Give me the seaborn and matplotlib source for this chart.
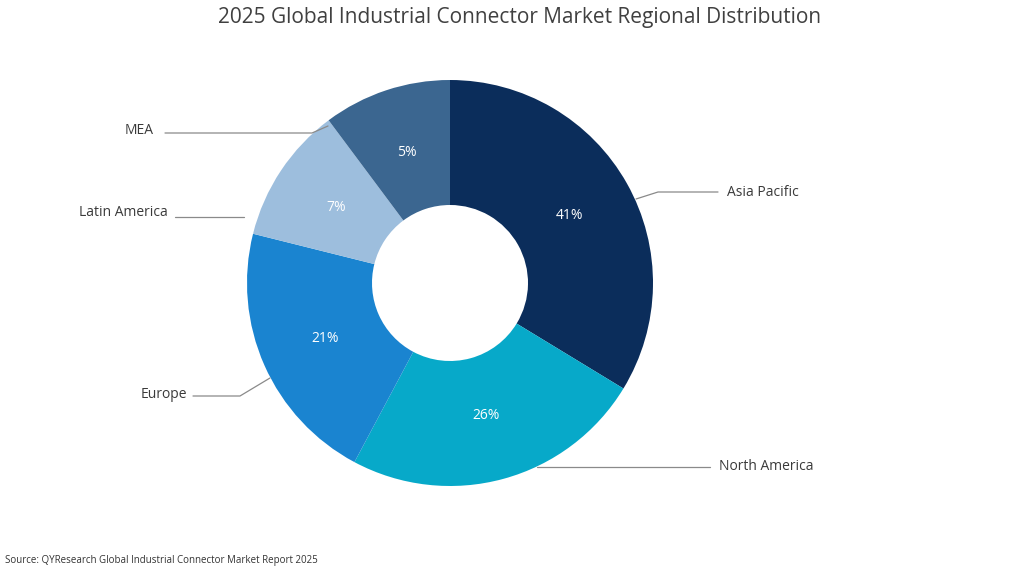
import matplotlib
matplotlib.use("Agg")
import matplotlib.pyplot as plt
import seaborn as sns
import numpy as np

# Data
regions = ["Asia Pacific", "North America", "Europe", "Latin America", "MEA"]
# slice sizes as drawn in the reference (angular shares)
shares = [33.7, 24.1, 21.1, 10.9, 10.2]
# percentages printed on the slices
pct_labels = ["41%", "26%", "21%", "7%", "5%"]
colors = ["#0b2d5b", "#07a9c9", "#1a84d0", "#9dbedd", "#3b6690"]

title = "2025 Global Industrial Connector Market Regional Distribution"
source = "Source: QYResearch Global Industrial Connector Market Report 2025"

sns.set_theme(style="white")
plt.rcParams['font.family'] = ['Open Sans', 'DejaVu Sans']

fig = plt.figure(figsize=(10.24, 5.76), dpi=100)
ax = fig.add_axes([0, 0, 1, 1])
ax.set_xlim(0, 1024)
ax.set_ylim(0, 576)
ax.axis("off")

H = 576
cx, cy = 450, H - 283
R = 203
wedges, _ = ax.pie(shares, colors=colors, startangle=90, counterclock=False,
                   center=(cx, cy), radius=R, frame=True,
                   wedgeprops=dict(width=125, edgecolor="none", linewidth=0))
ax.set_xlim(0, 1024)
ax.set_ylim(0, 576)
ax.axis("off")

for w, lab in zip(wedges, pct_labels):
    mid = np.deg2rad((w.theta1 + w.theta2) / 2)
    r = 0.675 * R
    ax.text(cx + r * np.cos(mid), cy + r * np.sin(mid), lab, color="white",
            fontsize=10, ha="center", va="center")

line_kw = dict(color="#8a8a8a", lw=0.9)
txt_kw = dict(fontsize=10, color="#3a3a3a", va="center")

# leader lines (pixel coords -> data coords with y flipped)
def P(x, y):
    return x, H - y

# Asia Pacific
xs, ys = zip(P(636, 199), P(658, 192), P(718, 192))
ax.plot(xs, ys, **line_kw)
ax.text(*P(727, 192), regions[0], ha="left", **txt_kw)
# North America
xs, ys = zip(P(537, 467), P(710, 467))
ax.plot(xs, ys, **line_kw)
ax.text(*P(719, 467), regions[1], ha="left", **txt_kw)
# Europe
xs, ys = zip(P(193, 396), P(240, 396), P(270, 378))
ax.plot(xs, ys, **line_kw)
ax.text(*P(187, 395), regions[2], ha="right", **txt_kw)
# Latin America
xs, ys = zip(P(175, 217), P(244, 217))
ax.plot(xs, ys, **line_kw)
ax.text(*P(168, 213), regions[3], ha="right", **txt_kw)
# MEA
xs, ys = zip(P(165, 133), P(312, 133), P(328, 126))
ax.plot(xs, ys, **line_kw)
ax.text(*P(154, 130), regions[4], ha="right", **txt_kw)

ax.text(*P(520, 17), title, ha="center", va="center", fontsize=15, color="#404040")
ax.text(*P(5, 561), source, ha="left", va="center", fontsize=7, color="#333333")

fig.savefig("out.png", dpi=100, facecolor="white")
